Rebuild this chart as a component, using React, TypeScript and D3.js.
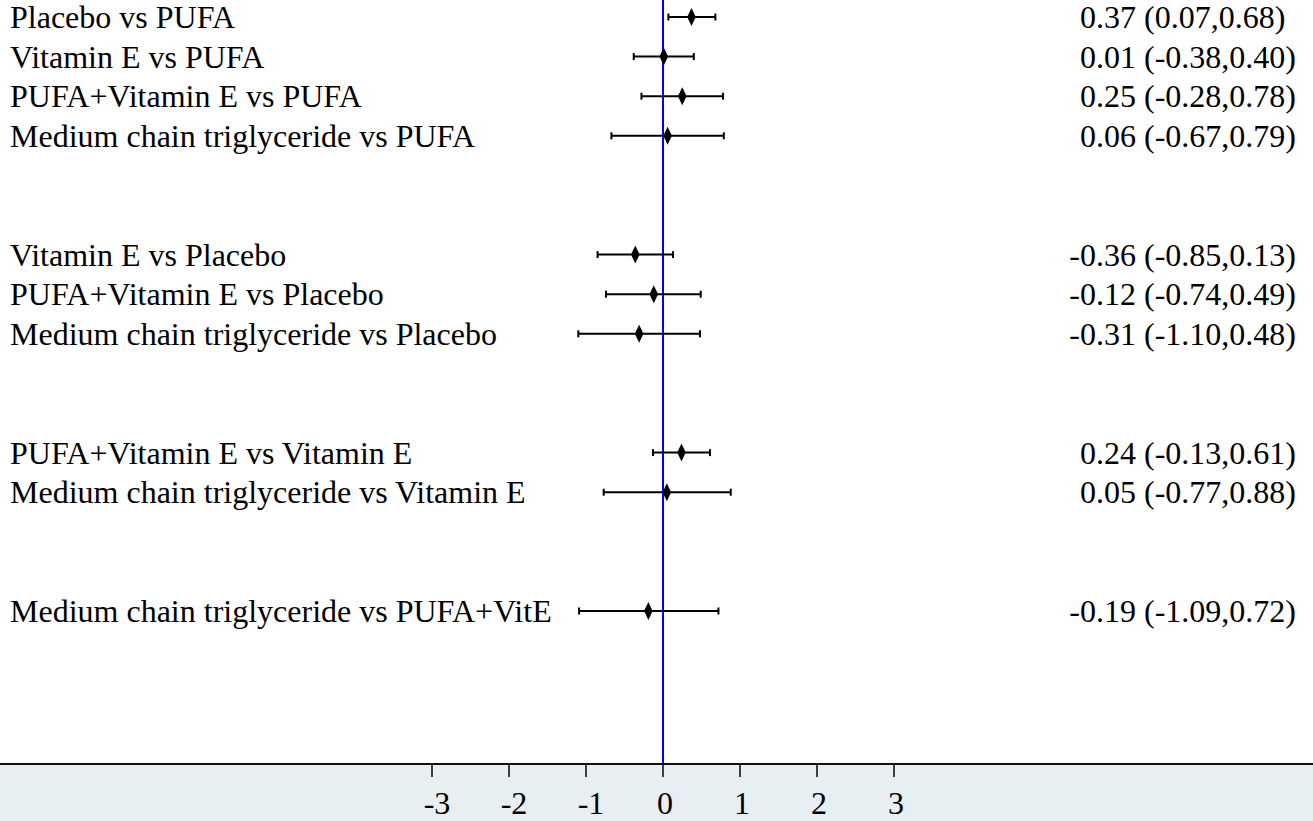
import React from "react";
import * as d3 from "d3";

// Pairwise comparisons, grouped by reference treatment
const labels: string[] = [
  "Placebo vs PUFA",
  "Vitamin E vs PUFA",
  "PUFA+Vitamin E vs PUFA",
  "Medium chain triglyceride vs PUFA",
  "Vitamin E vs Placebo",
  "PUFA+Vitamin E vs Placebo",
  "Medium chain triglyceride vs Placebo",
  "PUFA+Vitamin E vs Vitamin E",
  "Medium chain triglyceride vs Vitamin E",
  "Medium chain triglyceride vs PUFA+VitE",
];
const estimates: number[] = [0.37, 0.01, 0.25, 0.06, -0.36, -0.12, -0.31, 0.24, 0.05, -0.19];
const lower: number[] = [0.07, -0.38, -0.28, -0.67, -0.85, -0.74, -1.1, -0.13, -0.77, -1.09];
const upper: number[] = [0.68, 0.4, 0.78, 0.79, 0.13, 0.49, 0.48, 0.61, 0.88, 0.72];
const groupSizes: number[] = [4, 3, 2, 1];
const blankRowsBetweenGroups = 2;
const axisTicks: number[] = [-3, -2, -1, 0, 1, 2, 3];

const W = 1313;
const H = 821;
const FONT = "'Liberation Serif', 'Times New Roman', serif";
const FS = 32;

// Row slot for each comparison, leaving blank rows between groups
const rowSlots: number[] = [];
{
  let slot = 0;
  groupSizes.forEach((n) => {
    for (let i = 0; i < n; i++) rowSlots.push(slot++);
    slot += blankRowsBetweenGroups;
  });
}

const fmt = (v: number) => v.toFixed(2);

export default function App() {
  const x = d3.scaleLinear().domain([-3, 3]).range([432, 894]);
  const y = d3.scaleLinear().domain([0, 15]).range([17, 611]);
  const axisY = 764;
  const minusW = FS * 0.333;
  const baselineShift = 11;

  const diamond = (cx: number, cy: number) =>
    `M${cx},${cy - 9}L${cx + 4.3},${cy}L${cx},${cy + 9}L${cx - 4.3},${cy}Z`;

  return (
    <svg
      width={W}
      height={H}
      style={{ position: "fixed", left: 0, top: 0, background: "#fff" }}
      fontFamily={FONT}
    >
      {/* axis band */}
      <rect x={0} y={axisY} width={W} height={H - axisY} fill="#e8eff2" />
      <line x1={0} x2={W} y1={axisY} y2={axisY} stroke="#111" strokeWidth={2} />
      {axisTicks.map((t) => (
        <g key={t}>
          <line x1={x(t)} x2={x(t)} y1={axisY} y2={axisY + 13} stroke="#111" strokeWidth={1.6} />
          <text
            x={x(t) + (t < 0 ? 5 : 2)}
            y={814}
            fontSize={FS}
            textAnchor="middle"
            fill="#000"
          >
            {t}
          </text>
        </g>
      ))}

      {/* reference line at zero */}
      <line x1={x(0)} x2={x(0)} y1={0} y2={axisY} stroke="#0000ff" strokeWidth={2} />

      {labels.map((lab, i) => {
        const cy = y(rowSlots[i]);
        const x0 = x(lower[i]);
        const x1 = x(upper[i]);
        return (
          <g key={lab}>
            <text x={10} y={cy + baselineShift} fontSize={FS} fill="#000">
              {lab}
            </text>
            <line x1={x0} x2={x1} y1={cy} y2={cy} stroke="#000" strokeWidth={2} />
            <line x1={x0} x2={x0} y1={cy - 3.5} y2={cy + 3.5} stroke="#000" strokeWidth={2} />
            <line x1={x1} x2={x1} y1={cy - 3.5} y2={cy + 3.5} stroke="#000" strokeWidth={2} />
            <path d={diamond(x(estimates[i]), cy)} fill="#000" />
            <text
              x={1080 - (estimates[i] < 0 ? minusW : 0)}
              y={cy + baselineShift}
              fontSize={FS}
              fill="#000"
            >
              {`${fmt(estimates[i])} (${fmt(lower[i])},${fmt(upper[i])})`}
            </text>
          </g>
        );
      })}
    </svg>
  );
}
